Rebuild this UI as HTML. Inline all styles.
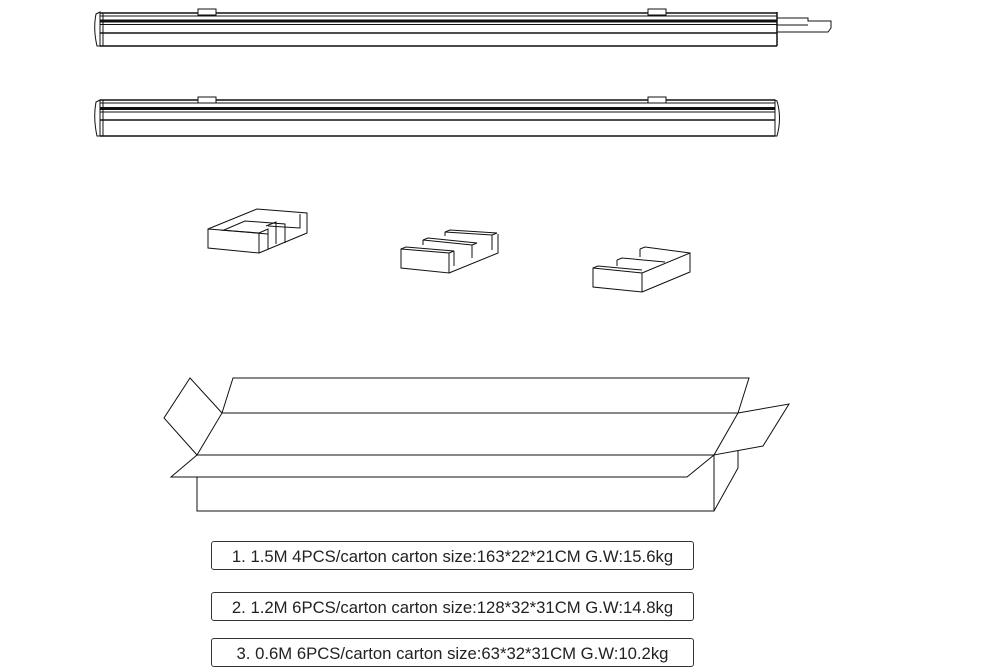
<!DOCTYPE html>
<html><head><meta charset="utf-8"><style>
body{margin:0;background:#fff;width:988px;height:669px;overflow:hidden;position:relative;font-family:"Liberation Sans",Arial,sans-serif}
.b{position:absolute;left:211px;width:481px;border:1px solid #333;border-radius:3px;text-align:center;font-size:16.7px;color:#222;line-height:30px;height:27px;overflow:visible}
</style></head><body>
<svg width="988" height="669" style="position:absolute;left:0;top:0" fill="none" stroke="#111" stroke-width="1">
<g>
<line x1="100" y1="13" x2="777" y2="13" stroke-width="1.5"/>
<line x1="100" y1="16" x2="777" y2="16"/>
<line x1="100" y1="21" x2="777" y2="21" stroke-width="3"/>
<line x1="100" y1="24.5" x2="777" y2="24.5"/>
<line x1="100" y1="33" x2="777" y2="33" stroke-width="1.5"/>
<line x1="100" y1="46" x2="777" y2="46" stroke-width="1.5"/>
<path d="M100 12 L96 14 Q93 29 97 46 L100 46 Z"/>
<line x1="103" y1="13" x2="103" y2="46"/>
<line x1="777" y1="12" x2="777" y2="46" stroke-width="1.5"/>
<rect x="198" y="9" width="18" height="6" fill="#fff"/>
<rect x="648" y="9" width="18" height="6" fill="#fff"/>
<path d="M777 18 L808 18 L808 21 L831 21 L831 28 L828 32 L777 32"/>
<line x1="777" y1="25" x2="808" y2="25"/>
</g>
<g>
<line x1="100" y1="100" x2="775" y2="100" stroke-width="1.5"/>
<line x1="100" y1="103" x2="775" y2="103"/>
<line x1="100" y1="108.5" x2="775" y2="108.5" stroke-width="3"/>
<line x1="100" y1="112" x2="775" y2="112"/>
<line x1="100" y1="120" x2="775" y2="120" stroke-width="1.5"/>
<line x1="100" y1="136" x2="775" y2="136" stroke-width="1.5"/>
<path d="M100 100 L96 102 Q93 118 97 136 L100 136 Z"/>
<line x1="103" y1="100" x2="103" y2="136"/>
<path d="M775 100 L777 101 Q782 118 777 136 L775 136 Z"/>
<rect x="198" y="97" width="18" height="6" fill="#fff"/>
<rect x="648" y="97" width="18" height="6" fill="#fff"/>
</g>
<g>
<path d="M208 229 L259 233 L259 253 L208 248 Z"/>
<path d="M208 229 L257 209 L307 213 L307 233 L259 253"/>
<path d="M259 233 L268 229 L268 249"/>
<path d="M224 230 L245 221 L285 224 L285 243"/>
<path d="M220 230 L268 234 M266 226 L276 222 L276 244 M268 226 L300 228 L300 214"/>
</g>
<g>
<path d="M401 249 L449 253 L449 273 L401 268 Z"/>
<path d="M449 273 L498 253 L498 234"/>
<path d="M401 249 L406 247 L454 251 L449 253"/>
<path d="M454 251 L454 266"/>
<path d="M423 240 L428 238 L477 243 L472 245 L472 258"/>
<path d="M423 240 L423 245 M472 245 L423 240"/>
<path d="M445 232 L450 230 L497 233 L492 235 L492 250 M445 232 L445 236 M492 235 L445 232"/>
</g>
<g>
<path d="M593 268 L642 273 L642 292 L593 287 Z"/>
<path d="M642 292 L690 272 L690 253 L642 273"/>
<path d="M593 268 L598 266 L642 270"/>
<path d="M617 260 L622 258 L665 262"/>
<path d="M617 260 L617 266"/>
<path d="M640 249 L645 247 L690 253"/>
<path d="M640 249 L640 257"/>
</g>
<g stroke-width="1">
<path d="M190 378 L164 418 L197 455 L222 413 Z"/>
<path d="M222 413 L233 378 L749 378 L738 413 Z"/>
<line x1="197" y1="455" x2="714" y2="455"/>
<path d="M197 455 L171 477 L687 477 L714 455"/>
<path d="M197 477 L197 511 L714 511 L714 455"/>
<path d="M714 511 L738 468 L738 451"/>
<path d="M738 413 L789 404 L763 446 L714 455 L738 413"/>
</g>
</svg>
<div class="b" style="top:541px">1. 1.5M 4PCS/carton carton size:163*22*21CM G.W:15.6kg</div>
<div class="b" style="top:592px">2. 1.2M 6PCS/carton carton size:128*32*31CM G.W:14.8kg</div>
<div class="b" style="top:638px">3. 0.6M 6PCS/carton carton size:63*32*31CM G.W:10.2kg</div>
</body></html>
